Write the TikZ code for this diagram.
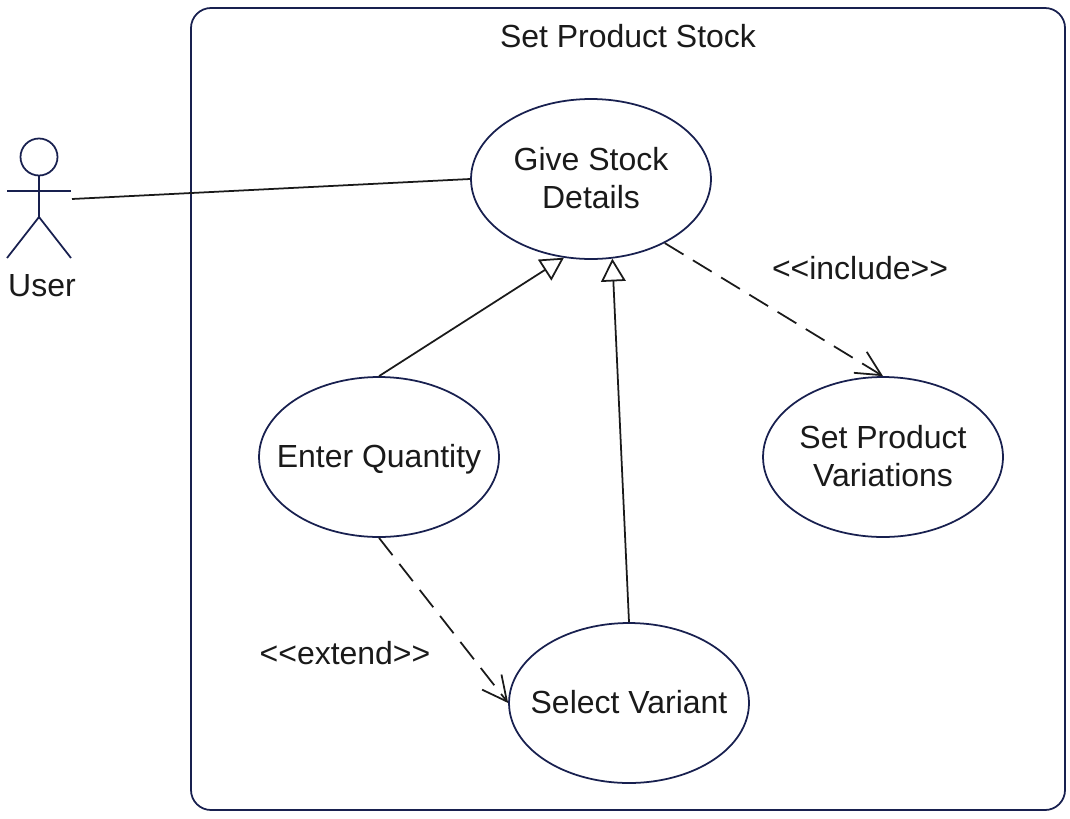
\documentclass[tikz,border=0pt]{standalone}
\usepackage{fontspec}
\setmainfont{Liberation Sans}
\usetikzlibrary{arrows.meta,shapes.geometric}
\definecolor{umlnavy}{HTML}{18204F}
\definecolor{umlink}{HTML}{1A1A1A}
\newcommand{\stereotype}[1]{{<}{<}#1{>}{>}}
\tikzset{
  label/.style={text=umlink,font=\fontsize{18.2}{21.5}\selectfont,align=center},
  usecase/.style={label,draw=umlnavy,line width=1pt,shape=ellipse,inner sep=-20pt,minimum width=4.8cm,minimum height=3.2cm,text depth=1.2pt},
  oneline/.style={usecase,text height=15pt,text depth=3pt},
  stick/.style={draw=umlnavy,line width=1pt},
  assoc/.style={draw=umlink,line width=1pt},
  generalize/.style={assoc,-{Triangle[open,length=13pt,width=14pt,fill=white]}},
  dependency/.style={assoc,dash pattern=on 12.5pt off 6.3pt,-{Straight Barb[length=14pt,width=14pt,line width=1pt]}},
}

\begin{document}
\begin{tikzpicture}[x=0.02cm,y=-0.02cm]
  \useasboundingbox (0,0) rectangle (1070,818);
  \draw[stick,rounded corners=0.4cm] (191,8) rectangle (1065,810);
  \node[label] (title) at (628,36) {Set Product Stock};

  % actor
  \node[stick,circle,inner sep=0pt,minimum size=0.74cm] (head) at (39,157) {};
  \coordinate (hip) at (39,217);
  \coordinate (armleft) at (7,191);
  \coordinate (armright) at (71,191);
  \coordinate (footleft) at (7,258);
  \coordinate (footright) at (71,258);
  \coordinate (hand) at (72,199);
  \draw[stick] (head.south) -- (hip);
  \draw[stick] (armleft) -- (armright);
  \draw[stick] (footleft) -- (hip) -- (footright);
  \node[label] (user) at (42,286) {User};

  % use cases
  \node[usecase] (give) at (591,179) {Give Stock\\Details};
  \node[oneline] (quantity) at (379,457) {Enter Quantity};
  \node[usecase] (variations) at (883,457) {Set Product\\Variations};
  \node[oneline] (variant) at (629,703) {Select Variant};

  \draw[assoc] (hand) -- (give.west);
  \draw[generalize] (quantity.north) -- (give.251);
  \draw[generalize] (variant.north) -- (give.285);
  \draw[dependency] (give.319) -- (variations.north);
  \draw[dependency] (quantity.south) -- (variant.west);

  \node[label] (include) at (860,268) {\stereotype{include}};
  \node[label] (extend) at (345,653) {\stereotype{extend}};
\end{tikzpicture}
\end{document}
